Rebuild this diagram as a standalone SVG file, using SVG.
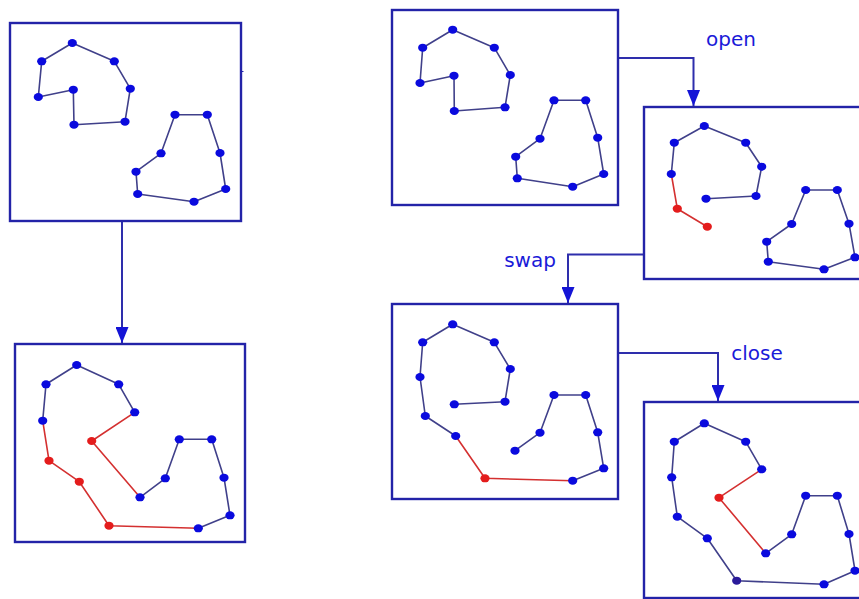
<svg xmlns="http://www.w3.org/2000/svg" width="859" height="599" viewBox="0 0 859 599">
<style>
.box{fill:#fff;stroke:#2323a8;stroke-width:2.4}
.e{fill:none;stroke:#40408a;stroke-width:1.6;stroke-linejoin:round}
.r{fill:none;stroke:#d43030;stroke-width:1.6;stroke-linejoin:round}
.d{fill:#0a0ade}
.rd{fill:#e41c1c}
.d ellipse,.rd ellipse{rx:4.6px;ry:4px}
.conn{fill:none;stroke:#2e2eac;stroke-width:2}
.lbl{font-family:"DejaVu Sans",sans-serif;font-size:20px;fill:#1a1ad8}
</style>
<defs>
<marker id="arr" markerUnits="userSpaceOnUse" viewBox="0 0 16 13" refX="16" refY="6.5" markerWidth="16" markerHeight="13" orient="auto">
<path d="M0,0 L16,6.5 L0,13 z" fill="#1414d6"/>
</marker>
</defs>
<rect width="859" height="599" fill="#fff"/>

<g id="connectors">
<path class="conn" d="M122,221 V343" marker-end="url(#arr)"/>
<path class="conn" d="M618,58 H693.5 V106" marker-end="url(#arr)"/>
<path class="conn" d="M644,254.5 H568 V303" marker-end="url(#arr)"/>
<path class="conn" d="M618,353 H718 V401" marker-end="url(#arr)"/>
<text class="lbl" x="731" y="46" text-anchor="middle">open</text>
<text class="lbl" x="530" y="267" text-anchor="middle">swap</text>
<text class="lbl" x="757" y="360" text-anchor="middle">close</text>
</g>

<g id="box1">
<rect class="box" x="10" y="23" width="231" height="198"/>
<path d="M241,71.5 H243.5" stroke="#2323a8" stroke-width="1"/>
<polygon class="e" points="72.3,43 41.7,61.3 38.3,97 73.3,89.7 74,124.7 125,121.7 130.3,88.7 114.3,61.3"/>
<polygon class="e" points="175,114.7 207.3,114.7 220,153 225.7,189 194,201.7 137.7,194 136,171.7 161,153.3"/>
<g class="d">
<ellipse cx="72.3" cy="43"/><ellipse cx="41.7" cy="61.3"/><ellipse cx="38.3" cy="97"/><ellipse cx="73.3" cy="89.7"/><ellipse cx="74" cy="124.7"/><ellipse cx="125" cy="121.7"/><ellipse cx="130.3" cy="88.7"/><ellipse cx="114.3" cy="61.3"/>
<ellipse cx="175" cy="114.7"/><ellipse cx="207.3" cy="114.7"/><ellipse cx="220" cy="153"/><ellipse cx="225.7" cy="189"/><ellipse cx="194" cy="201.7"/><ellipse cx="137.7" cy="194"/><ellipse cx="136" cy="171.7"/><ellipse cx="161" cy="153.3"/>
</g>
</g>

<g id="box2">
<rect class="box" x="15" y="344" width="230" height="198"/>
<polyline class="e" points="42.7,420.7 46,384.3 76.7,365 118.7,384.3 134.7,412.3"/>
<polyline class="r" points="134.7,412.3 91.7,441 140,497.3"/>
<polyline class="r" points="42.7,420.7 49,460.7 79.3,481.7 109,525.7 198.3,528.3"/>
<polyline class="e" points="198.3,528.3 230,515.3 224,477.7 211.7,439.3 179.3,439.3 165.3,478.3 140,497.3"/>
<g class="d">
<ellipse cx="76.7" cy="365"/><ellipse cx="46" cy="384.3"/><ellipse cx="42.7" cy="420.7"/><ellipse cx="198.3" cy="528.3"/><ellipse cx="230" cy="515.3"/><ellipse cx="224" cy="477.7"/><ellipse cx="211.7" cy="439.3"/><ellipse cx="179.3" cy="439.3"/><ellipse cx="165.3" cy="478.3"/><ellipse cx="140" cy="497.3"/><ellipse cx="134.7" cy="412.3"/><ellipse cx="118.7" cy="384.3"/>
</g>
<g class="rd">
<ellipse cx="49" cy="460.7"/><ellipse cx="79.3" cy="481.7"/><ellipse cx="109" cy="525.7"/><ellipse cx="91.7" cy="441"/>
</g>
</g>

<g id="box3">
<rect class="box" x="392" y="10" width="226" height="195"/>
<polygon class="e" points="452.7,29.7 422.7,47.7 420,83 454,75.7 454.3,111 505,107.3 510.3,75 494.3,47.7"/>
<polygon class="e" points="554,100.3 585.7,100.3 597.7,137.7 603.7,174 572.7,186.7 517.3,178.3 515.7,156.7 540,138.7"/>
<g class="d">
<ellipse cx="452.7" cy="29.7"/><ellipse cx="422.7" cy="47.7"/><ellipse cx="420" cy="83"/><ellipse cx="454" cy="75.7"/><ellipse cx="454.3" cy="111"/><ellipse cx="505" cy="107.3"/><ellipse cx="510.3" cy="75"/><ellipse cx="494.3" cy="47.7"/>
<ellipse cx="554" cy="100.3"/><ellipse cx="585.7" cy="100.3"/><ellipse cx="597.7" cy="137.7"/><ellipse cx="603.7" cy="174"/><ellipse cx="572.7" cy="186.7"/><ellipse cx="517.3" cy="178.3"/><ellipse cx="515.7" cy="156.7"/><ellipse cx="540" cy="138.7"/>
</g>
</g>

<g id="box4">
<rect class="box" x="644" y="107" width="220" height="172"/>
<polyline class="e" points="706,198.7 756,196 761.7,166.7 745.7,142.7 704.3,126 674.3,142.7 671.3,174"/>
<polyline class="r" points="671.3,174 677.3,208.7 707.3,226.7"/>
<polygon class="e" points="805.7,190 837.3,190 849,223.7 855,257.3 824,269.3 768.3,261.7 766.7,241.7 791.7,224"/>
<g class="d">
<ellipse cx="706" cy="198.7"/><ellipse cx="756" cy="196"/><ellipse cx="761.7" cy="166.7"/><ellipse cx="745.7" cy="142.7"/><ellipse cx="704.3" cy="126"/><ellipse cx="674.3" cy="142.7"/><ellipse cx="671.3" cy="174"/>
<ellipse cx="805.7" cy="190"/><ellipse cx="837.3" cy="190"/><ellipse cx="849" cy="223.7"/><ellipse cx="855" cy="257.3"/><ellipse cx="824" cy="269.3"/><ellipse cx="768.3" cy="261.7"/><ellipse cx="766.7" cy="241.7"/><ellipse cx="791.7" cy="224"/>
</g>
<g class="rd">
<ellipse cx="677.3" cy="208.7"/><ellipse cx="707.3" cy="226.7"/>
</g>
</g>

<g id="box5">
<rect class="box" x="392" y="304" width="226" height="195"/>
<polyline class="e" points="515,450.7 540,432.7 554,395 585.7,395 597.7,432.3 603.7,468.3 572.7,480.7"/>
<polyline class="r" points="572.7,480.7 485,478.3 455.7,436"/>
<polyline class="e" points="455.7,436 425.3,416 420,377 422.7,342.3 452.7,324.3 494.3,342.3 510.3,369 505,401.7 454.3,404.3"/>
<g class="d">
<ellipse cx="515" cy="450.7"/><ellipse cx="540" cy="432.7"/><ellipse cx="554" cy="395"/><ellipse cx="585.7" cy="395"/><ellipse cx="597.7" cy="432.3"/><ellipse cx="603.7" cy="468.3"/><ellipse cx="572.7" cy="480.7"/>
<ellipse cx="455.7" cy="436"/><ellipse cx="425.3" cy="416"/><ellipse cx="420" cy="377"/><ellipse cx="422.7" cy="342.3"/><ellipse cx="452.7" cy="324.3"/><ellipse cx="494.3" cy="342.3"/><ellipse cx="510.3" cy="369"/><ellipse cx="505" cy="401.7"/><ellipse cx="454.3" cy="404.3"/>
</g>
<g class="rd">
<ellipse cx="485" cy="478.3"/>
</g>
</g>

<g id="box6">
<rect class="box" x="644" y="402" width="220" height="196"/>
<polyline class="e" points="765.7,553.3 791.7,534.3 805.7,495.7 837.3,495.7 849,534 855,570.7 824,584.3 736.7,580.7 707.3,538.3 677.3,516.7 671.7,477.3 674.3,441.7 704.3,423.3 745.7,441.7 761.7,469.3"/>
<polyline class="r" points="761.7,469.3 719,497.7 765.7,553.3"/>
<g class="d">
<ellipse cx="704.3" cy="423.3"/><ellipse cx="674.3" cy="441.7"/><ellipse cx="671.7" cy="477.3"/><ellipse cx="677.3" cy="516.7"/><ellipse cx="707.3" cy="538.3"/><ellipse cx="736.7" cy="580.7" fill="#2a1a9a"/><ellipse cx="824" cy="584.3"/><ellipse cx="855" cy="570.7"/><ellipse cx="849" cy="534"/><ellipse cx="837.3" cy="495.7"/><ellipse cx="805.7" cy="495.7"/><ellipse cx="791.7" cy="534.3"/><ellipse cx="765.7" cy="553.3"/><ellipse cx="761.7" cy="469.3"/><ellipse cx="745.7" cy="441.7"/>
</g>
<g class="rd">
<ellipse cx="719" cy="497.7"/>
</g>
</g>
</svg>
